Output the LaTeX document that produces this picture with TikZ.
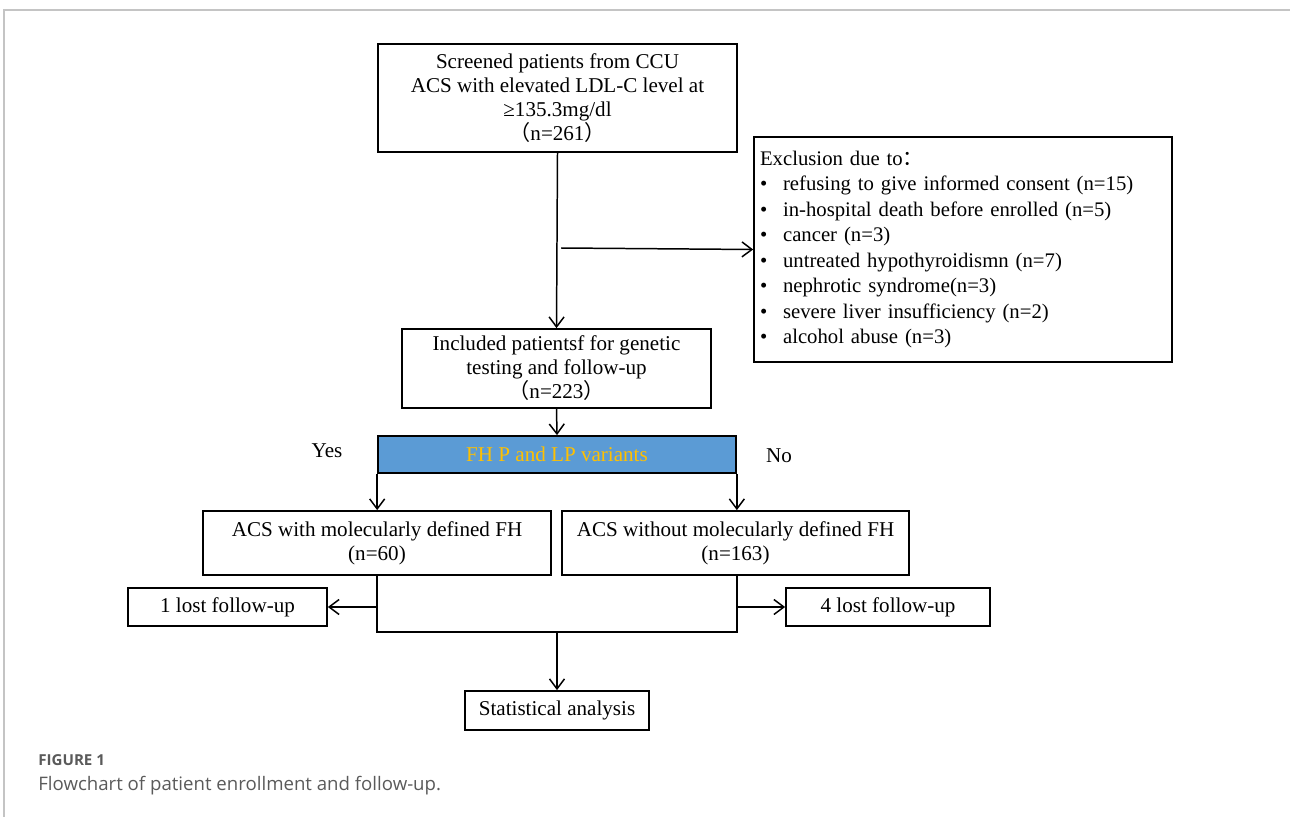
\documentclass[tikz,border=0pt]{standalone}
\usepackage{fontspec}
\setmainfont{Liberation Serif}
\newfontfamily\capfont{Open Sans}
\newfontfamily\cjk{Noto Sans CJK SC}
\usetikzlibrary{arrows.meta, positioning, calc}
\definecolor{cblue}{HTML}{5B9BD5}
\definecolor{cgold}{HTML}{FFC000}
\definecolor{cframe}{HTML}{C4C4C4}
\definecolor{ccap}{HTML}{5A5A5A}
\tikzset{
  every picture/.style={font=\fontsize{12}{13.7}\selectfont},
  box/.style={draw, line width=1pt, align=center, inner sep=0pt, minimum width=#1},
  box/.default=3cm,
  arrow/.style={-{Straight Barb[length=2mm, width=3mm]}, line width=0.85pt},
  note/.style={inner sep=0pt},
  captext/.style={text=ccap, anchor=west, inner sep=0pt},
}
\newcommand{\fw}[1]{{\cjk #1}}
\newcommand{\exitem}[1]{\makebox[0.46cm][l]{•}#1}

\begin{document}
\begin{tikzpicture}[x=0.02cm, y=-0.02cm]
  \useasboundingbox (0,0) rectangle (1290,817);
  % frame of the figure
  \draw[cframe, line width=0.8pt] (4,817) -- (4,10) -- (1290,10);

  \node[box=7.18cm, minimum height=2.16cm] (screen) at (557.5,98)
    {Screened patients from CCU\\ACS with elevated LDL-C level at\\≥135.3mg/dl\\\fw{（}n=261\fw{）}};
  \node[box=8.36cm, minimum height=4.5cm, inner xsep=0.12cm, text width=8.12cm, align=left,
        font=\fontsize{11.8}{14.5}\selectfont] (excl) at (963,249.5)
    {Exclusion due to\fw{：}\\
     \exitem{refusing to give informed consent (n=15)}\\
     \exitem{in-hospital death before enrolled (n=5)}\\
     \exitem{cancer (n=3)}\\
     \exitem{untreated hypothyroidismn (n=7)}\\
     \exitem{nephrotic syndrome(n=3)}\\
     \exitem{severe liver insufficiency (n=2)}\\
     \exitem{alcohol abuse (n=3)}};
  \node[box=6.18cm, minimum height=1.58cm] (incl) at (556.5,368.5)
    {Included patientsf for genetic\\testing and follow-up\\\fw{（}n=223\fw{）}};
  \node[box=7.16cm, minimum height=0.74cm, fill=cblue, text=cgold] (fh) at (557,454.5) {FH P and LP variants};
  \node[note] (yes) at (327,451) {Yes};
  \node[note] (no) at (779,456) {No};
  \node[box=6.96cm, minimum height=1.28cm] (withfh) at (377,543) {ACS with molecularly defined FH\\(n=60)};
  \node[box=6.94cm, minimum height=1.28cm] (withoutfh) at (735.5,543) {ACS without molecularly defined FH\\(n=163)};
  \node[box=3.98cm, minimum height=0.76cm] (lostl) at (227.5,607) {1 lost follow-up};
  \node[box=4.08cm, minimum height=0.76cm] (lostr) at (888,607) {4 lost follow-up};
  \node[box=3.68cm, minimum height=0.78cm] (stat) at (557,710.5) {Statistical analysis};

  \coordinate (branch) at (561,248);
  \coordinate (merge) at (557,632);

  \draw[arrow] (screen.south) -- (incl.north);
  \draw[arrow] (branch) -- (excl.west);
  \draw[arrow] (incl.south) -- (fh.north);
  \draw[arrow] (fh.south west) -- (withfh.north -| fh.south west);
  \draw[arrow] (fh.south east) -- (withoutfh.north -| fh.south east);
  \draw[line width=0.85pt] (withfh.south -| fh.west) |- (merge) -| (withoutfh.south -| fh.east);
  \draw[arrow] (lostl.east -| fh.west) -- (lostl.east);
  \draw[arrow] (lostr.west -| fh.east) -- (lostr.west);
  \draw[arrow] (merge) -- (stat.north);

  % caption
  \node[captext, font=\capfont\bfseries\fontsize{8.6}{10}\selectfont] (figno) at (38,760) {FIGURE 1};
  \node[captext, font=\capfont\fontsize{10.6}{13}\selectfont] (caption) at (38,786) {Flowchart of patient enrollment and follow-up.};
\end{tikzpicture}
\end{document}
